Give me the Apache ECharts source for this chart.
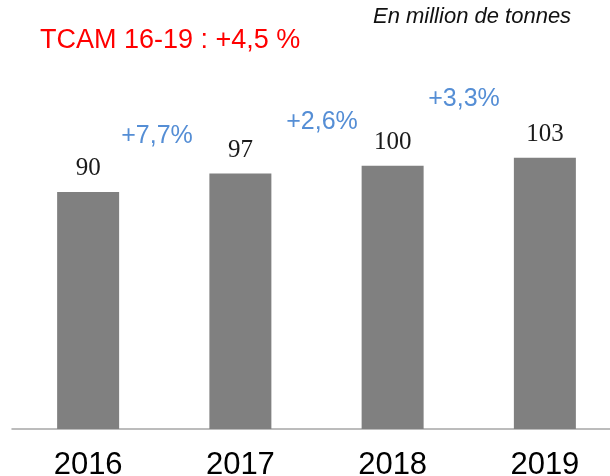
<!DOCTYPE html>
<html>
<head>
<meta charset="utf-8">
<script src="https://cdn.jsdelivr.net/npm/echarts@6/dist/echarts.min.js"></script>
<style>
  html, body { margin: 0; padding: 0; background: #fff; }
  #chart { width: 610px; height: 476px; }
</style>
</head>
<body>
<div id="chart"></div>
<script>
// volumes en millions de tonnes
const years = ['2016', '2017', '2018', '2019']
const volumes = [90, 97, 100, 103]
const growthLabels = ['+7,7%', '+2,6%', '+3,3%']
const titleText = 'TCAM 16-19 : +4,5 %'
const unitText = 'En million de tonnes'

const chart = echarts.init(document.getElementById('chart'))

// positions of the growth annotations (between bars)
const growthPos = [[157, 136], [322, 122], [464, 99]]

const option = {
  animation: false,
  grid: {
    left: 12,
    width: 609,
    top: 34,
    bottom: 47,
    containLabel: false,
    outerBoundsMode: 'none'
  },
  xAxis: {
    type: 'category',
    data: years,
    axisLine: {
      lineStyle: { color: '#a6a6a6', width: 1.5 }
    },
    axisTick: { show: false },
    axisLabel: {
      color: '#000',
      fontSize: 31,
      fontFamily: 'Liberation Sans',
      margin: 21
    }
  },
  yAxis: {
    type: 'value',
    min: 0,
    max: 150,
    show: false,
    splitLine: { show: false }
  },
  series: [{
    type: 'bar',
    data: volumes,
    barWidth: 62,
    itemStyle: { color: '#808080' },
    label: {
      show: true,
      position: 'top',
      distance: 11,
      color: '#1a1a1a',
      fontSize: 25,
      fontFamily: 'Liberation Serif'
    }
  }],
  graphic: [
    {
      type: 'text',
      left: 40,
      top: 27,
      style: {
        text: titleText,
        fill: '#ff0000',
        font: '27px "Liberation Sans"'
      }
    },
    {
      type: 'text',
      left: 373,
      top: 6,
      style: {
        text: unitText,
        fill: '#111',
        font: 'italic 22px "Liberation Sans"'
      }
    }
  ].concat(growthLabels.map(function (t, i) {
    return {
      type: 'text',
      x: growthPos[i][0],
      y: growthPos[i][1],
      style: {
        text: t,
        fill: '#558ed5',
        font: '25px "Liberation Sans"',
        align: 'center',
        verticalAlign: 'middle'
      }
    }
  }))
}
chart.setOption(option)
</script>
</body>
</html>
